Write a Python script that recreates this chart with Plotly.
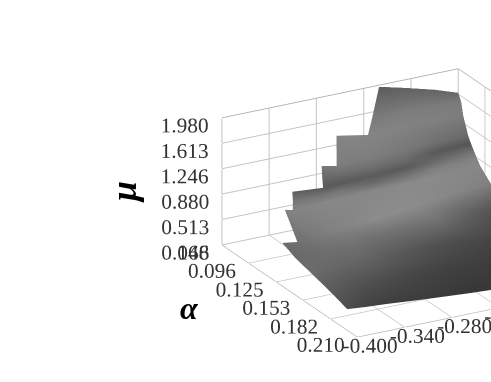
import plotly.graph_objects as go

N = None
alpha_ticks = [0.068, 0.096, 0.125, 0.153, 0.182, 0.210]
beta_ticks = [-0.400, -0.340, -0.280, -0.220, -0.160, -0.100]
pad = "\u00a0" * 10
beta_labels = [pad + "-0.400", pad + "-0.340", pad + "-0.280", pad + "-0.220", pad + "-0.160", pad + "-0.100"]
mu_ticks = [0.146, 0.513, 0.880, 1.246, 1.613, 1.980]

alpha_rows = [0.0680, 0.0711, 0.0733, 0.0785, 0.0815, 0.0849, 0.0879, 0.0911, 0.1017, 0.1177, 0.1390, 0.1674, 0.1995]

beta = [
    [-.2005, -.2005, -.2005, -.2005, -.2005, -.2005, -.1675, -.129, -.100],
    [-.213, -.213, -.213, -.213, -.213, -.213, -.171, -.133, -.100],
    [-.261, -.261, -.261, -.261, -.261, -.221, -.174, -.136, -.100],
    [-.286, -.286, -.286, -.286, -.267, -.222, -.180, -.142, -.100],
    [-.289, -.289, -.289, -.289, -.269, -.226, -.184, -.146, -.100],
    [-.331, -.331, -.331, -.292, -.270, -.230, -.188, -.150, -.100],
    [-.334, -.334, -.334, -.296, -.274, -.233, -.192, -.153, -.100],
    [-.348, -.348, -.338, -.300, -.278, -.237, -.195, -.157, -.100],
    [-.364, -.345, -.326, -.303, -.284, -.246, -.202, -.157, -.100],
    [-.367, -.348, -.323, -.297, -.272, -.234, -.183, -.138, -.100],
    [-.374, -.361, -.336, -.304, -.272, -.234, -.190, -.145, -.100],
    [-.385, -.370, -.345, -.313, -.275, -.230, -.192, -.148, -.100],
    [-.400, -.377, -.352, -.320, -.282, -.244, -.218, -.168, -.100],
]
mu = [
    [N, N, N, N, N, 1.957, 1.864, 1.745, 1.633],
    [N, N, N, N, N, 1.569, 1.556, 1.538, 1.533],
    [N, N, N, N, 1.443, 1.360, 1.380, 1.377, 1.351],
    [N, N, N, 1.114, 1.070, 1.080, 1.098, 1.109, 1.111],
    [N, N, N, .979, .973, .986, 1.004, 1.013, 1.023],
    [N, N, .909, .874, .880, .900, .916, .927, .940],
    [N, N, .814, .793, .815, .836, .836, .848, .867],
    [N, .746, .720, .733, .740, .759, .760, .773, .795],
    [.406, .375, .401, .421, .434, .474, .527, .582, .649],
    [.346, .359, .372, .383, .395, .421, .447, .456, .452],
    [.358, .373, .370, .366, .364, .361, .344, .280, .232],
    [.392, .370, .368, .351, .348, .315, .296, .265, .225],
    [.452, .428, .410, .379, .346, .315, .298, .251, .192],
]
gray = [
    [0, 0, 0, 0, 0, 92, 97, 100, 105],
    [0, 0, 0, 0, 0, 122, 125, 125, 122],
    [0, 0, 0, 0, 133, 133, 130, 128, 125],
    [0, 0, 0, 122, 125, 125, 120, 112, 105],
    [0, 0, 0, 105, 108, 112, 110, 90, 85],
    [0, 0, 95, 90, 90, 92, 90, 105, 118],
    [0, 0, 118, 118, 118, 105, 115, 128, 132],
    [0, 130, 132, 135, 135, 135, 138, 138, 135],
    [108, 112, 120, 128, 132, 140, 140, 135, 128],
    [105, 108, 112, 114, 112, 112, 112, 92, 80],
    [108, 106, 103, 100, 92, 84, 76, 70, 62],
    [92, 88, 82, 76, 70, 64, 62, 56, 50],
    [78, 68, 62, 60, 58, 55, 55, 50, 48],
]

fig = go.Figure(go.Surface(
    x=[[a] * 9 for a in alpha_rows], y=beta, z=mu, surfacecolor=gray,
    cmin=0, cmax=255, colorscale=[[0, "#000000"], [1, "#ffffff"]], showscale=False,
    lighting=dict(ambient=1, diffuse=0, specular=0, roughness=1, fresnel=0),
    hoverinfo="skip",
))
font = dict(family="Liberation Serif", size=16, color="#333333")
axis = dict(showbackground=False, gridcolor="#c4c4c4", showline=True, linecolor="#aaaaaa", mirror=True,
            ticks="outside", tickcolor="rgba(255,255,255,0)", tickwidth=1,
            zeroline=False, showspikes=False, tickformat=".3f", title="", tickfont=font, autorange=False,
            tickangle=0)
D = 2
S = 1.414
cx, cy, cz = -0.305 * S, -0.518 * S, 0.041 * S
fig.update_layout(
    width=491, height=382, margin=dict(l=0, r=0, t=0, b=0), paper_bgcolor="white", showlegend=False,
    scene=dict(
        domain=dict(x=[0, 1], y=[0, 1]),
        xaxis=dict(axis, range=[0.068, 0.210], tickvals=alpha_ticks, ticklen=8),
        yaxis=dict(axis, range=[-0.400, -0.100], tickvals=beta_ticks, ticktext=beta_labels, ticklen=24),
        zaxis=dict(axis, range=[0.146, 1.980], tickvals=mu_ticks, ticklen=8),
        aspectmode="manual", aspectratio=dict(x=1.037 * S, y=1.0 * S, z=0.508 * S),
        camera=dict(
            projection=dict(type="orthographic"), up=dict(x=0, y=0, z=1),
            center=dict(x=cx, y=cy, z=cz),
            eye=dict(x=cx + 0.811 * D, y=cy - 0.448 * D, z=cz + 0.376 * D),
        ),
    ),
    annotations=[
        dict(text="<b><i>μ</i></b>", x=124 / 491, y=1 - 192 / 382, xref="paper", yref="paper", showarrow=False,
             xanchor="center", yanchor="middle", textangle=-90,
             font=dict(family="Liberation Serif", size=36, color="black")),
        dict(text="<b><i>α</i></b>", x=189 / 491, y=1 - 308 / 382, xref="paper", yref="paper", showarrow=False,
             xanchor="center", yanchor="middle",
             font=dict(family="Liberation Serif", size=32, color="black")),
    ],
)
fig.write_html("out.html", config=dict(displayModeBar=False),
               post_script="document.body.style.margin='0';document.body.style.overflow='hidden';")
